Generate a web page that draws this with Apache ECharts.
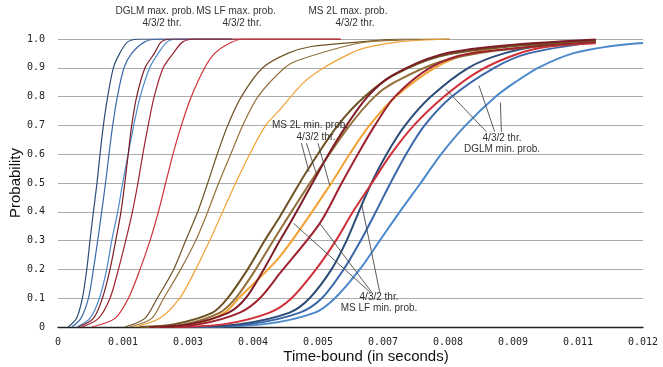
<!DOCTYPE html>
<html>
<head>
<meta charset="utf-8">
<script src="https://cdn.jsdelivr.net/npm/echarts@6/dist/echarts.min.js"></script>
<style>
  html, body { margin: 0; padding: 0; background: #fff; }
  #chart { width: 663px; height: 367px; }
</style>
</head>
<body>
<div id="chart"></div>
<script>
// each curve: [time in ms, probability]
// max. prob. curves (thin)
const dglmMax4 = [[0.21,0],[0.38,0.03],[0.50,0.1],[0.59,0.2],[0.656,0.3],[0.726,0.4],[0.80,0.5],[0.862,0.6],[0.931,0.7],[1.019,0.8],[1.136,0.9],[1.266,0.95],[1.43,0.99],[1.68,1],[3.56,1]]
const dglmMax3 = [[0.28,0],[0.47,0.03],[0.624,0.1],[0.726,0.2],[0.814,0.3],[0.896,0.4],[0.975,0.5],[1.046,0.6],[1.122,0.7],[1.218,0.8],[1.354,0.9],[1.512,0.95],[1.78,0.99],[2.06,1],[3.56,1]]
const dglmMax2 = [[0.38,0],[0.656,0.03],[0.849,0.1],[0.999,0.2],[1.102,0.3],[1.225,0.4],[1.327,0.5],[1.44,0.6],[1.553,0.7],[1.686,0.8],[1.881,0.9],[2.055,0.95],[2.24,0.99],[2.445,1],[3.56,1]]
const lfMax4 = [[0.42,0],[0.726,0.03],[0.911,0.1],[1.067,0.2],[1.184,0.3],[1.292,0.4],[1.37,0.5],[1.44,0.6],[1.512,0.7],[1.614,0.8],[1.785,0.9],[1.977,0.95],[2.12,0.99],[2.33,1],[5.8,1]]
const lfMax3 = [[0.49,0],[0.83,0.03],[1.067,0.1],[1.239,0.2],[1.389,0.3],[1.526,0.4],[1.64,0.5],[1.74,0.6],[1.85,0.7],[1.973,0.8],[2.158,0.9],[2.363,0.95],[2.558,0.99],[2.825,1],[5.8,1]]
const lfMax2 = [[0.69,0],[1.169,0.03],[1.444,0.1],[1.682,0.2],[1.887,0.3],[2.059,0.4],[2.209,0.5],[2.359,0.6],[2.531,0.7],[2.736,0.8],[3.009,0.9],[3.214,0.95],[3.46,0.98],[3.79,1],[5.8,1]]
const l2Max4 = [[1.37,0],[1.78,0.03],[2.035,0.1],[2.373,0.2],[2.619,0.3],[2.866,0.4],[3.071,0.5],[3.266,0.6],[3.481,0.7],[3.762,0.8],[4.199,0.9],[4.712,0.95],[5.198,0.974],[6.189,0.99],[7.01,1],[8.03,1]]
const l2Max3 = [[1.47,0],[1.922,0.03],[2.168,0.1],[2.517,0.2],[2.825,0.3],[3.071,0.4],[3.296,0.5],[3.543,0.6],[3.789,0.7],[4.103,0.8],[4.65,0.9],[4.958,0.928],[6.189,0.986],[7.0,0.996],[8.03,1]]
const l2Max2 = [[1.57,0],[2.086,0.03],[2.496,0.1],[2.825,0.2],[3.112,0.3],[3.378,0.4],[3.645,0.5],[3.932,0.6],[4.26,0.7],[4.548,0.754],[5.026,0.847],[5.45,0.9],[6.0,0.95],[6.3,0.969],[7.0,0.99],[8.03,1]]

// min. prob. curves (thick)
const l2Min4 = [[1.68,0],[2.39,0.01],[3.17,0.05],[3.48,0.1],[3.89,0.2],[4.24,0.3],[4.55,0.383],[5.12,0.545],[5.74,0.7],[6.29,0.8],[6.87,0.873],[7.83,0.94],[9.0,0.97],[11.03,0.995]]
const l2Min3 = [[1.78,0],[2.6,0.01],[3.32,0.05],[3.645,0.1],[4.055,0.2],[4.548,0.336],[5.286,0.53],[5.984,0.7],[6.497,0.8],[6.907,0.85],[7.83,0.92],[9.0,0.96],[11.03,0.99]]
const l2Min2 = [[1.88,0],[2.80,0.01],[3.42,0.05],[3.73,0.104],[4.55,0.244],[5.57,0.49],[5.98,0.6],[6.39,0.7],[6.93,0.8],[7.73,0.9],[8.45,0.95],[9.47,0.98],[11.03,0.99]]
const lfMin4 = [[1.88,0],[2.70,0.01],[3.50,0.05],[3.85,0.1],[4.22,0.2],[4.55,0.3],[4.76,0.36],[5.22,0.5],[5.55,0.6],[5.92,0.7],[6.35,0.8],[6.85,0.873],[7.83,0.945],[9.0,0.975],[11.03,0.998]]
const lfMin3 = [[2.09,0],[2.91,0.01],[3.73,0.05],[4.14,0.1],[4.55,0.186],[5.37,0.36],[5.82,0.5],[6.15,0.6],[6.50,0.7],[6.91,0.8],[7.63,0.9],[8.45,0.95],[11.03,0.99]]
const lfMin2 = [[2.39,0],[3.42,0.01],[4.34,0.05],[4.79,0.1],[5.29,0.2],[5.70,0.3],[6.05,0.4],[6.44,0.5],[6.83,0.6],[7.30,0.7],[7.92,0.8],[8.55,0.88],[9.20,0.934],[9.88,0.969],[11.03,0.985]]
const dglmMin4 = [[2.60,0],[3.73,0.01],[4.75,0.05],[5.16,0.1],[5.61,0.2],[5.92,0.3],[6.17,0.4],[6.43,0.5],[6.74,0.6],[7.12,0.7],[7.65,0.8],[8.42,0.9],[9.15,0.95],[10.03,0.98],[11.03,0.993]]
const dglmMin3 = [[2.70,0],[3.93,0.01],[4.96,0.05],[5.41,0.1],[5.86,0.2],[6.21,0.3],[6.52,0.4],[6.82,0.5],[7.14,0.6],[7.52,0.7],[8.08,0.8],[8.95,0.9],[9.65,0.95],[11.03,0.99]]
const dglmMin2 = [[2.91,0],[4.24,0.01],[5.27,0.05],[5.68,0.1],[6.19,0.2],[6.60,0.3],[7.01,0.4],[7.44,0.5],[7.86,0.6],[8.36,0.7],[8.98,0.8],[9.38,0.85],[9.85,0.9],[10.56,0.95],[11.32,0.975],[12.0,0.986]]

// annotation arrows: [from ms, from p, to ms, to p]
const arrows = [
  [1.819,1.043,1.635,1.008],[1.963,1.043,1.902,1.001],[2.127,1.043,2.414,0.987],
  [3.522,1.043,2.599,1.008],[3.584,1.043,2.640,0.963],[3.707,1.043,3.461,0.963],
  [5.573,1.043,5.198,0.974],[5.819,1.043,5.403,0.953],[6.086,1.039,6.168,0.963],
  [4.993,0.638,5.149,0.539],[5.095,0.638,5.301,0.531],[5.333,0.638,5.573,0.493],
  [6.394,0.122,4.830,0.360],[6.429,0.122,5.368,0.360],[6.599,0.122,6.224,0.431],
  [8.788,0.678,7.953,0.826],[8.958,0.678,8.636,0.838],[9.095,0.678,9.075,0.779]
]
// annotation texts: [text, x px, y px]
const notes = [
  ['DGLM max. prob.', 155, 11], ['4/3/2 thr.', 162, 23],
  ['MS LF max. prob.', 236, 11], ['4/3/2 thr.', 242, 23],
  ['MS 2L max. prob.', 348, 11], ['4/3/2 thr.', 355, 23],
  ['MS 2L min. prob.', 310, 125], ['4/3/2 thr.', 316, 137],
  ['4/3/2 thr.', 379, 297], ['MS LF min. prob.', 379, 308],
  ['4/3/2 thr.', 502, 138], ['DGLM min. prob.', 502, 149]
]

const navy = '#2c4c78', blue = '#3b68aa', lightBlue = '#4b88cc'
const darkRed = '#7d1c26', midRed = '#9e2230', red = '#cf3038'
const darkBrown = '#6f5224', brown = '#94703a', orange = '#f0a233'

const curves = [
  { data: dglmMax4, color: navy, width: 1.2 },
  { data: dglmMax3, color: blue, width: 1.2 },
  { data: dglmMax2, color: lightBlue, width: 1.2 },
  { data: lfMax4, color: darkRed, width: 1.2 },
  { data: lfMax3, color: midRed, width: 1.2 },
  { data: lfMax2, color: red, width: 1.2 },
  { data: l2Max4, color: darkBrown, width: 1.2 },
  { data: l2Max3, color: brown, width: 1.2 },
  { data: l2Max2, color: orange, width: 1.2 },
  { data: dglmMin2, color: lightBlue, width: 2 },
  { data: dglmMin3, color: blue, width: 2 },
  { data: dglmMin4, color: navy, width: 2 },
  { data: lfMin2, color: red, width: 2 },
  { data: l2Min2, color: orange, width: 2 },
  { data: l2Min3, color: brown, width: 2 },
  { data: lfMin3, color: midRed, width: 2 },
  { data: l2Min4, color: darkBrown, width: 2 },
  { data: lfMin4, color: darkRed, width: 2 },
]

var myChart = echarts.init(document.getElementById('chart'))
var monoFont = '"DejaVu Sans Mono", monospace'
var sansFont = '"Liberation Sans", Arial, sans-serif'

var series = curves.map(function (c) {
  return {
    type: 'line',
    data: c.data.map(function (d) { return [d[0] / 1000, d[1]] }),
    smooth: 0.3,
    showSymbol: false,
    symbol: 'none',
    silent: true,
    lineStyle: { color: c.color, width: c.width },
  }
})

// arrows for the labels
series.push({
  type: 'line',
  data: [],
  clip: false,
  silent: true,
  markLine: {
    silent: true,
    symbol: ['none', 'arrow'],
    symbolSize: [0, 7],
    label: { show: false },
    emphasis: { disabled: true },
    lineStyle: { color: '#4a4a4a', width: 0.9, type: 'solid' },
    data: arrows.map(function (a) {
      return [{ coord: [a[0] / 1000, a[1]] }, { coord: [a[2] / 1000, a[3]] }]
    }),
  },
})

var option = {
  animation: false,
  grid: { left: 58, right: 20, top: 39, bottom: 40, outerBoundsMode: 'none' },
  xAxis: {
    type: 'value',
    min: 0,
    max: 0.012,
    interval: 0.012 / 9,
    name: 'Time-bound (in seconds)',
    nameLocation: 'middle',
    nameGap: 22,
    nameMoveOverlap: false,
    nameTextStyle: { fontFamily: sansFont, fontSize: 15, color: '#111', verticalAlign: 'top', padding: [0, 0, 0, 31] },
    axisLine: { lineStyle: { color: '#222', width: 1.3 } },
    axisTick: { show: false },
    splitLine: { show: false },
    axisLabel: {
      margin: 10,
      fontFamily: monoFont,
      fontSize: 10,
      color: '#222',
      formatter: function (v) { return v === 0 ? '0' : v.toFixed(3) },
    },
  },
  yAxis: {
    type: 'value',
    min: 0,
    max: 1,
    interval: 0.1,
    name: 'Probability',
    nameLocation: 'middle',
    nameGap: 35,
    nameMoveOverlap: false,
    nameTextStyle: { fontFamily: sansFont, fontSize: 15, color: '#111' },
    axisLine: { show: false },
    axisTick: { show: false },
    splitLine: { lineStyle: { color: '#ababab', width: 1 } },
    axisLabel: {
      margin: 13,
      fontFamily: monoFont,
      fontSize: 10,
      color: '#222',
      formatter: function (v) { return v === 0 ? '0' : v.toFixed(1) },
    },
  },
  graphic: notes.map(function (n) {
    return {
      type: 'text',
      x: n[1],
      y: n[2],
      silent: true,
      z: 100,
      style: { text: n[0], fontFamily: sansFont, fontSize: 10, fill: '#333', align: 'center', verticalAlign: 'middle' },
    }
  }),
  series: series,
}

option && myChart.setOption(option)
window.addEventListener('resize', function () {
  myChart.resize()
})
</script>
</body>
</html>
